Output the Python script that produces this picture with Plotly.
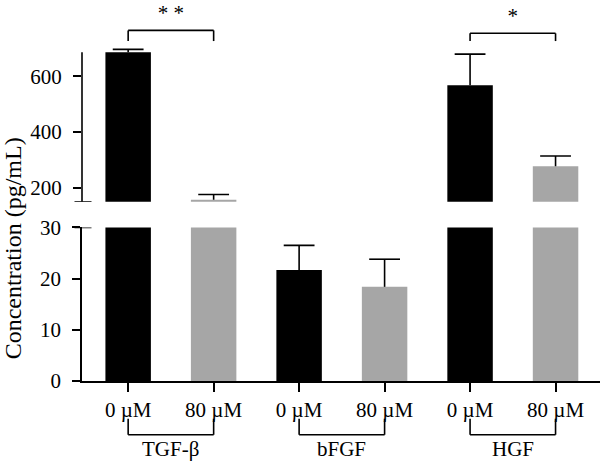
import plotly.graph_objects as go

# ---- data ----
groups = ["TGF-β", "bFGF", "HGF"]
doses = ["0 µM", "80 µM"]
mean_0uM = [686, 21.7, 568]
err_0uM = [10, 4.8, 111]
mean_80uM = [157, 18.4, 277]
err_80uM = [19, 5.4, 37]
sig_labels = ["* *", "", "*"]

lower_ticks = [0, 10, 20, 30]
upper_ticks = [200, 400, 600]
lower_range = [0, 30]
upper_range = [150, 830]
upper_axis_top = 686

FONT = "Liberation Serif"
BLACK = "#000000"
GRAY = "#a6a6a6"

W, H = 600, 465
ML, MB, MT, MR = 82, 84, 0, 0
PH = H - MT - MB  # plot height in px

UP_BOT_PX, UP_TOP_PX = 196, 0


def py(px):
    """pixel row (from top) -> paper y"""
    return (PH - (px - MT)) / PH


def pxx(px):
    return (px - ML) / (W - ML - MR)


def y2_at(px):
    """pixel row -> value on the upper (y2) axis scale"""
    per_px = (upper_range[1] - upper_range[0]) / (UP_BOT_PX - UP_TOP_PX)
    return upper_range[0] + (UP_BOT_PX - px) * per_px


x0 = [2 * i for i in range(len(groups))]
x80 = [2 * i + 1 for i in range(len(groups))]

fig = go.Figure()
for ax in ["y", "y2"]:
    for xs, means, errs, col, nm in ((x0, mean_0uM, err_0uM, BLACK, doses[0]),
                                     (x80, mean_80uM, err_80uM, GRAY, doses[1])):
        # bars with the error stem (no caps)
        fig.add_trace(go.Bar(
            x=xs, y=means, name=nm, width=0.532, yaxis=ax,
            marker=dict(color=col, line=dict(width=0)),
            error_y=dict(type="data", array=errs, arrayminus=[0] * len(errs), symmetric=False,
                         color=BLACK, thickness=1.6, width=0),
            showlegend=False))
        # top caps of the error bars
        fig.add_trace(go.Scatter(
            x=xs, y=[m + e for m, e in zip(means, errs)], yaxis=ax, mode="markers",
            marker=dict(symbol="line-ew", size=22, color=BLACK,
                        line=dict(width=1.6, color=BLACK)),
            showlegend=False, hoverinfo="skip"))

tickvals = sorted(x0 + x80)
ticktext = [doses[i % 2] for i in range(len(tickvals))]

fig.update_layout(
    width=W, height=H,
    margin=dict(l=ML, r=MR, t=MT, b=MB, pad=0),
    paper_bgcolor="white", plot_bgcolor="white",
    barmode="overlay",
    font=dict(family=FONT, size=21, color=BLACK),
    xaxis=dict(range=[-0.54, 5.52], tickvals=tickvals, ticktext=ticktext,
               showline=True, linecolor=BLACK, linewidth=1.6,
               ticks="outside", ticklen=9, tickwidth=1.6, tickcolor=BLACK,
               showgrid=False, zeroline=False, anchor="y",
               tickfont=dict(family=FONT, size=21)),
    yaxis=dict(domain=[0, py(222.5)], range=lower_range, tickvals=lower_ticks,
               showline=True, linecolor=BLACK, linewidth=1.6,
               ticks="outside", ticklen=8, tickwidth=1.6, tickcolor=BLACK,
               ticklabelstandoff=7,
               showgrid=False, zeroline=False, anchor="x",
               tickfont=dict(family=FONT, size=21)),
    yaxis2=dict(domain=[py(UP_BOT_PX), py(UP_TOP_PX)], range=upper_range, tickvals=upper_ticks,
                showline=False,
                ticks="outside", ticklen=8, tickwidth=1.6, tickcolor=BLACK,
                ticklabelstandoff=7,
                showgrid=False, zeroline=False, anchor="x",
                tickfont=dict(family=FONT, size=21)),
)

shapes = []
# upper y-axis line
shapes.append(dict(type="line", xref="paper", yref="y2", x0=0, x1=0,
                   y0=upper_range[0], y1=upper_axis_top, line=dict(color=BLACK, width=1.6)))
# axis break marks
shapes.append(dict(type="line", xref="paper", yref="y2", x0=pxx(74.5), x1=pxx(91.5),
                   y0=upper_range[0], y1=upper_range[0], line=dict(color=BLACK, width=1.6)))
shapes.append(dict(type="line", xref="paper", yref="y", x0=pxx(74.5), x1=pxx(91.5),
                   y0=lower_range[1], y1=lower_range[1], line=dict(color=BLACK, width=1.6)))

annotations = []
# group brackets and labels below the axis
for i, g in enumerate(groups):
    a, b = x0[i], x80[i]
    yt, yb = py(420), py(436.5)
    shapes.append(dict(type="line", xref="x", yref="paper", x0=a, x1=a, y0=yt, y1=yb,
                       line=dict(color=BLACK, width=1.6)))
    shapes.append(dict(type="line", xref="x", yref="paper", x0=b, x1=b, y0=yt, y1=yb,
                       line=dict(color=BLACK, width=1.6)))
    shapes.append(dict(type="line", xref="x", yref="paper", x0=a, x1=b, y0=yb, y1=yb,
                       line=dict(color=BLACK, width=1.6)))
    annotations.append(dict(text=g, x=(a + b) / 2, xref="x", y=py(451), yref="paper",
                            showarrow=False, xanchor="center", yanchor="middle",
                            font=dict(family=FONT, size=21, color=BLACK)))

# significance brackets
sig_y = {0: 19, 2: 22}
star_x, star_y, star_t = [], [], []
for i, s in enumerate(sig_labels):
    if not s:
        continue
    a, b = x0[i], x80[i]
    ytop = py(sig_y[i])
    ybot = py(30)
    for xx in (a, b):
        shapes.append(dict(type="line", xref="x", yref="paper", x0=xx, x1=xx, y0=ybot, y1=ytop,
                           line=dict(color=BLACK, width=1.6)))
    shapes.append(dict(type="line", xref="x", yref="paper", x0=a, x1=b, y0=ytop, y1=ytop,
                       line=dict(color=BLACK, width=1.6)))
    star_x.append((a + b) / 2)
    star_y.append(y2_at(sig_y[i] - 5))
    star_t.append(s)

fig.add_trace(go.Scatter(
    x=star_x, y=star_y, text=star_t, mode="text", yaxis="y2",
    textposition="top center", cliponaxis=False,
    textfont=dict(family=FONT, size=21, color=BLACK),
    showlegend=False, hoverinfo="skip"))

# y-axis title
annotations.append(dict(text="Concentration (pg/mL)", x=pxx(13), xref="paper", y=py(244),
                        yref="paper", textangle=-90, showarrow=False,
                        xanchor="center", yanchor="middle",
                        font=dict(family=FONT, size=24, color=BLACK)))

fig.update_layout(shapes=shapes, annotations=annotations)
fig.write_html("out.html")
